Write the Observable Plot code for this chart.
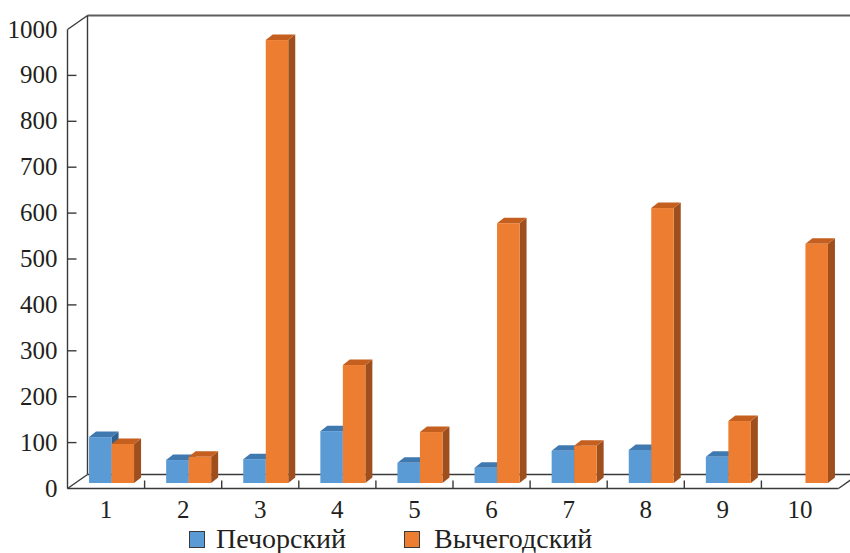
<!DOCTYPE html>
<html><head><meta charset="utf-8">
<script src="https://cdn.jsdelivr.net/npm/d3@7"></script>
<script src="https://cdn.jsdelivr.net/npm/@observablehq/plot@0.6"></script>
<style>
html,body{margin:0;padding:0;background:#fff;overflow:hidden}
#chart{position:relative;width:850px;height:553px}
.legend{position:absolute;top:525px;left:0;width:850px;height:28px;font-family:"Liberation Serif","Times New Roman",serif;font-size:28px;color:#231f20}
.item{position:absolute;top:0;height:28px;line-height:28px;white-space:nowrap}
.sw{position:absolute;top:6px;width:16px;height:17px;border:1px solid #3a3a3a;box-sizing:border-box}
</style></head><body><div id="chart"></div>
<script>
const categories = [1, 2, 3, 4, 5, 6, 7, 8, 9, 10];
const seriesNames = ["Печорский", "Вычегодский"];
const pechorsky = [100, 50, 52, 113, 44, 33, 70, 72, 57, 0];
const vychegodsky = [85, 57, 965, 257, 111, 566, 81, 599, 135, 521];
const yTicks = [0, 100, 200, 300, 400, 500, 600, 700, 800, 900, 1000];

const frontColors = ["#5b9bd5", "#ed7d31"];
const topColors = ["#3f79b0", "#c45f1f"];
const sideColors = ["#2f5f8f", "#9e4f1d"];

const W = 850, H = 522, ML = 67, MR = 12, MT = 29, MB = 34;
const ux = (W - ML - MR) / categories.length;
const uy = (H - MT - MB) / 1000;
const X = p => p / ux, Y = p => p / uy;
const depthX = X(20), depthY = Y(14);
const bx0 = X(6), by0 = Y(5);
const bw = X(22.5), bdx = X(7), bdy = Y(5.5);
const x0 = 0.5, x1 = categories.length + 0.5;

function faces(values, s) {
  const fronts = [], sides = [], tops = [];
  categories.forEach((c, i) => {
    const v = values[i];
    if (!v) return;
    const xL = c - bw + s * bw + bx0, xR = xL + bw;
    const b = by0, t = v + by0, key = s + "-" + i;
    fronts.push({xL, xR, b, t});
    sides.push({key, x: xR, y1: b, y2: t}, {key, x: xR + bdx, y1: b + bdy, y2: t + bdy});
    tops.push({key, x: xL, y1: t, y2: t}, {key, x: xL + bdx, y1: t, y2: t + bdy},
              {key, x: xR, y1: t, y2: t + bdy}, {key, x: xR + bdx, y1: t + bdy, y2: t + bdy});
  });
  return [
    Plot.areaY(sides, {x: "x", y1: "y1", y2: "y2", z: "key", fill: sideColors[s]}),
    Plot.areaY(tops, {x: "x", y1: "y1", y2: "y2", z: "key", fill: topColors[s]}),
    Plot.rect(fronts, {x1: "xL", x2: "xR", y1: "b", y2: "t", fill: frontColors[s]})
  ];
}

const frame = [
  {a: [x0, 0], b: [x1, 0]},
  {a: [x0, 0], b: [x0 + depthX, depthY]},
  {a: [x1, 0], b: [x1 + depthX, depthY]},
  {a: [x0 + depthX, depthY], b: [x1 + depthX, depthY]},
  {a: [x0 + depthX, depthY], b: [x0 + depthX, 1000 + depthY]},
  {a: [x0, 1000], b: [x0 + depthX, 1000 + depthY]},
  {a: [x0, 0], b: [x0, 1000]}
];
const topLine = [{a: [x0 + depthX, 1000 + depthY], b: [x1 + depthX, 1000 + depthY]}];
const yTickMarks = yTicks.filter(v => v > 0 && v < 1000).map(v => ({a: [x0, v], b: [x0 + X(9), v]}));
const xTickMarks = categories.slice(0, -1).map(c => ({a: [c + 0.5, 0], b: [c + 0.5, Y(8)]}));
const linkOpts = {x1: d => d.a[0], y1: d => d.a[1], x2: d => d.b[0], y2: d => d.b[1]};

const plot = Plot.plot({
  width: W, height: H,
  marginLeft: ML, marginRight: MR, marginTop: MT, marginBottom: MB,
  x: {type: "linear", domain: [x0, x1]},
  y: {type: "linear", domain: [0, 1000]},
  style: {fontFamily: "'Liberation Serif','Times New Roman',serif", fontSize: "25px", color: "#231f20", background: "#fff", overflow: "visible"},
  marks: [
    Plot.link(topLine, {...linkOpts, stroke: "#5e5e5e", strokeWidth: 2}),
    Plot.link(frame, {...linkOpts, stroke: "#3a3a3a", strokeWidth: 1.4}),
    Plot.link(yTickMarks, {...linkOpts, stroke: "#3a3a3a", strokeWidth: 1.4}),
    Plot.link(xTickMarks, {...linkOpts, stroke: "#3a3a3a", strokeWidth: 1.4}),
    ...faces(pechorsky, 0),
    ...faces(vychegodsky, 1),
    Plot.axisY({ticks: yTicks, tickSize: 0, tickPadding: 10, tickFormat: d => String(d), fontSize: 25}),
    Plot.axisX({ticks: categories, tickSize: 0, tickPadding: 12, tickFormat: d => String(d), fontSize: 25})
  ]
});
const chart = document.getElementById("chart");
chart.appendChild(plot);

const legend = document.createElement("div");
legend.className = "legend";
const legendX = [[189, 216], [404, 434]];
seriesNames.forEach((name, s) => {
  const sw = document.createElement("div");
  sw.className = "sw";
  sw.style.left = legendX[s][0] + "px";
  sw.style.background = frontColors[s];
  const tx = document.createElement("div");
  tx.className = "item";
  tx.style.left = legendX[s][1] + "px";
  tx.textContent = name;
  legend.appendChild(sw);
  legend.appendChild(tx);
});
chart.appendChild(legend);
</script>
</body></html>
